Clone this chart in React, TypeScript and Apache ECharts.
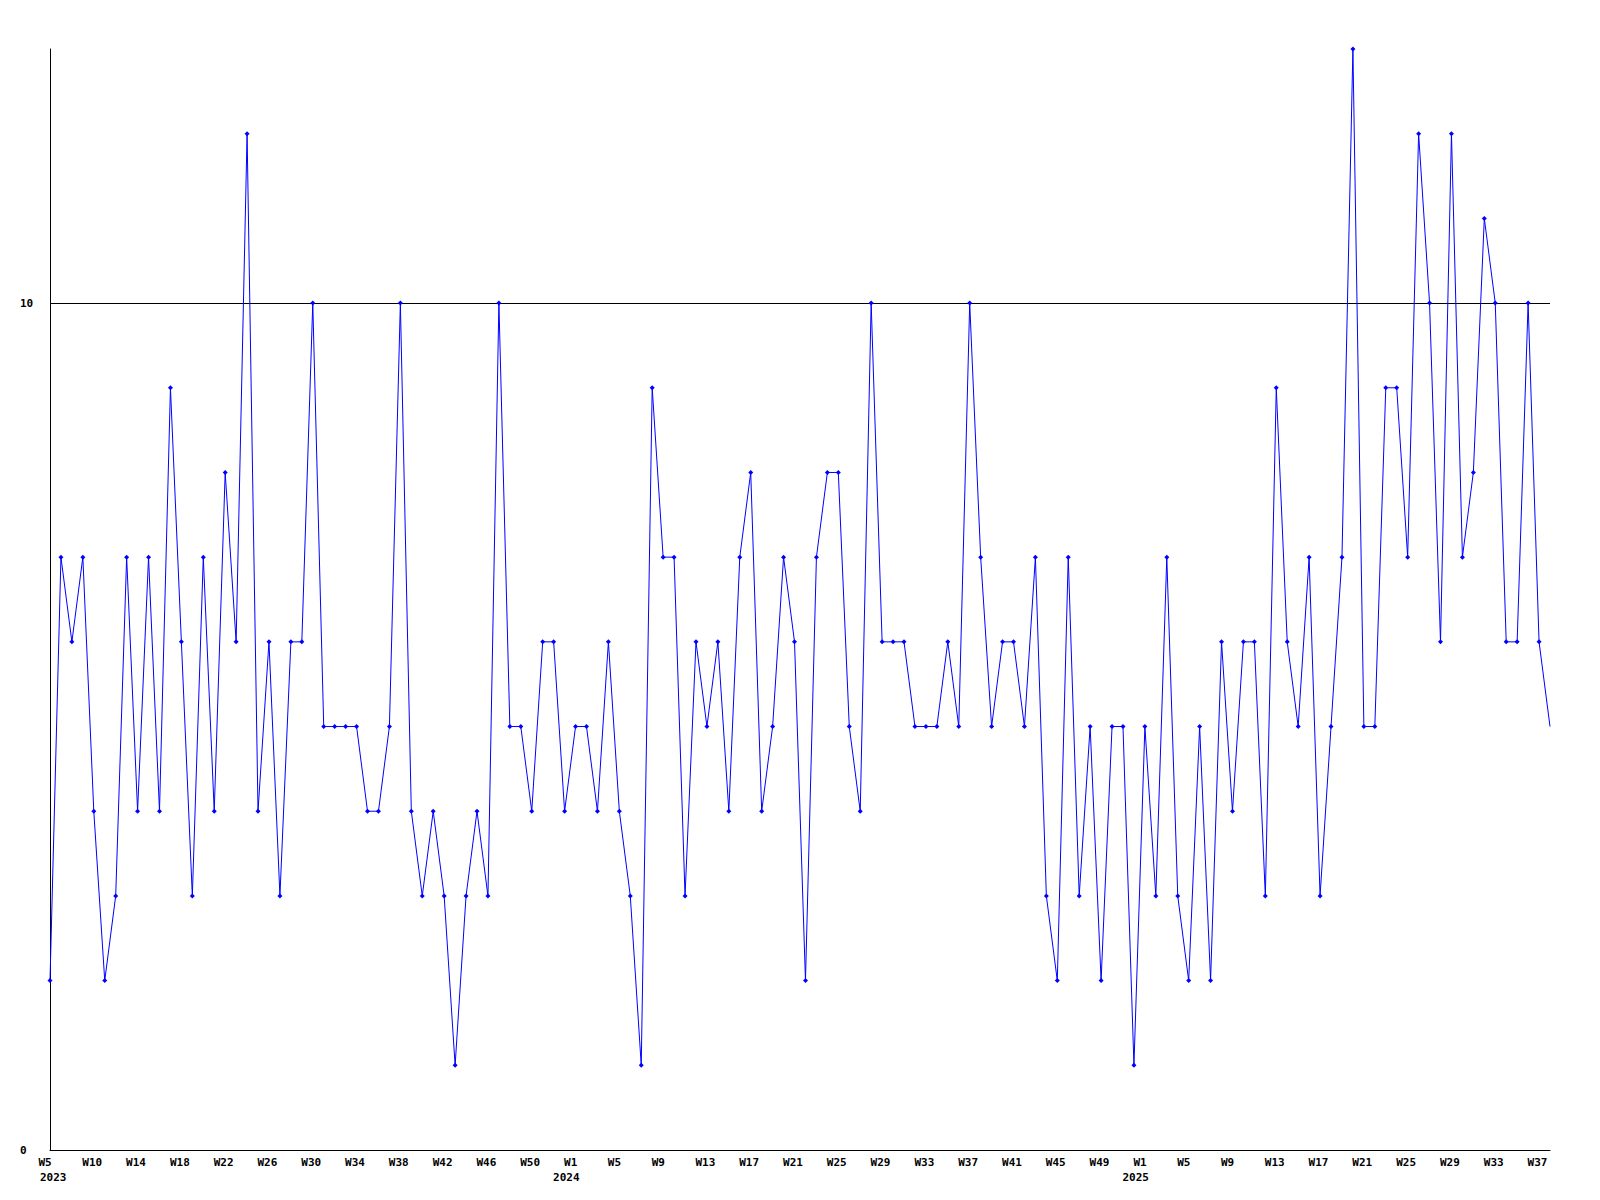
import React, { useEffect, useRef } from "react";
import * as echarts from "echarts";

const years = [2023, 2024, 2025];
const firstWeek = [5, 1, 1];
const lastWeek = [52, 52, 38];

// tick label texts per year and the week (category) each label sits at
const labelText2023 = ["W5", "W10", "W14", "W18", "W22", "W26", "W30", "W34", "W38", "W42", "W46", "W50"];
const labelAt2023 = [5, 9, 13, 17, 21, 25, 29, 33, 37, 41, 45, 49];
const labelText2024 = ["W1", "W5", "W9", "W13", "W17", "W21", "W25", "W29", "W33", "W37", "W41", "W45", "W49"];
const labelAt2024 = [1, 5, 9, 13, 17, 21, 25, 29, 33, 37, 41, 45, 49];
const labelText2025 = ["W1", "W5", "W9", "W13", "W17", "W21", "W25", "W29", "W33", "W37"];
const labelAt2025 = [1, 5, 9, 13, 17, 21, 25, 29, 33, 37];
const labelTexts = [labelText2023, labelText2024, labelText2025];
const labelAts = [labelAt2023, labelAt2024, labelAt2025];

const values = [
  2, 7, 6, 7, 4, 2, 3, 7, 4, 7, 4, 9, 6, 3, 7, 4, 8, 6, 12, 4,
  6, 3, 6, 6, 10, 5, 5, 5, 5, 4, 4, 5, 10, 4, 3, 4, 3, 1, 3, 4,
  3, 10, 5, 5, 4, 6, 6, 4, 5, 5, 4, 6, 4, 3, 1, 9, 7, 7, 3, 6,
  5, 6, 4, 7, 8, 4, 5, 7, 6, 2, 7, 8, 8, 5, 4, 10, 6, 6, 6, 5,
  5, 5, 6, 5, 10, 7, 5, 6, 6, 5, 7, 3, 2, 7, 3, 5, 2, 5, 5, 1,
  5, 3, 7, 3, 2, 5, 2, 6, 4, 6, 6, 3, 9, 6, 5, 7, 3, 5, 7, 13,
  5, 5, 9, 9, 7, 12, 10, 6, 12, 7, 8, 11, 10, 6, 6, 10, 6, 5,
];

const yLabels = [0, 10];

const categories: string[] = [];
years.forEach((y, yi) => {
  for (let w = firstWeek[yi]; w <= lastWeek[yi]; w++) {
    categories.push(`${y}-W${w}`);
  }
});

const FONT = "DejaVu Sans Mono";
const FONT_CSS = `bold 11px "${FONT}"`;

export default function App() {
  const ref = useRef<HTMLDivElement>(null);
  useEffect(() => {
    if (!ref.current) return;
    const chart = echarts.init(ref.current, undefined, { renderer: "svg" });
    const data = values.map((v, i) =>
      i === values.length - 1 ? { value: v, symbolSize: 0 } : v
    );
    chart.setOption({
      animation: false,
      backgroundColor: "#ffffff",
      grid: { left: 50, right: 50, top: 49, bottom: 50, containLabel: false },
      xAxis: {
        type: "category",
        data: categories,
        boundaryGap: false,
        axisLine: { show: true, lineStyle: { color: "#000000", width: 1 } },
        axisTick: { show: false },
        splitLine: { show: false },
        axisLabel: { show: false },
      },
      yAxis: {
        type: "value",
        min: 0,
        max: 13,
        interval: 10,
        axisLine: { show: true, lineStyle: { color: "#000000", width: 1 } },
        axisTick: { show: false },
        splitLine: { show: false },
        axisLabel: {
          show: true,
          margin: 30,
          align: "left",
          color: "#000000",
          fontFamily: FONT,
          fontWeight: "bold",
          fontSize: 11,
          showMaxLabel: false,
          formatter: (v: number) => (yLabels.indexOf(v) >= 0 ? String(v) : ""),
        },
      },
      series: [
        {
          type: "line",
          data,
          symbol: "diamond",
          symbolSize: 5,
          showSymbol: true,
          showAllSymbol: true,
          clip: true,
          lineStyle: { color: "#0000ff", width: 1 },
          itemStyle: { color: "#0000ff" },
          emphasis: { disabled: true },
          markLine: {
            silent: true,
            symbol: ["none", "none"],
            label: { show: false },
            lineStyle: { color: "#000000", width: 1, type: "solid" },
            data: [{ yAxis: 10 }],
            z: 1,
          },
          z: 3,
        },
      ],
    });

    const axisY = chart.convertToPixel({ yAxisIndex: 0 }, 0) as number;
    const graphics: any[] = [];
    years.forEach((y, yi) => {
      labelTexts[yi].forEach((t, k) => {
        const idx = categories.indexOf(`${y}-W${labelAts[yi][k]}`);
        const px = chart.convertToPixel({ xAxisIndex: 0 }, idx) as number;
        graphics.push({
          type: "text",
          x: px - 11.5,
          y: axisY + 12.5,
          silent: true,
          style: {
            text: t,
            font: FONT_CSS,
            fill: "#000000",
            textAlign: "left",
            textVerticalAlign: "middle",
          },
        });
        if (k === 0) {
          graphics.push({
            type: "text",
            x: Math.max(px - 22.5, 40),
            y: axisY + 27,
            silent: true,
            style: {
              text: String(y),
              font: FONT_CSS,
              fill: "#000000",
              textAlign: "left",
              textVerticalAlign: "middle",
            },
          });
        }
      });
    });
    chart.setOption({ graphic: graphics });
    return () => chart.dispose();
  }, []);
  return (
    <div
      ref={ref}
      style={{ position: "absolute", left: 0, top: 0, width: 1600, height: 1200 }}
    />
  );
}
